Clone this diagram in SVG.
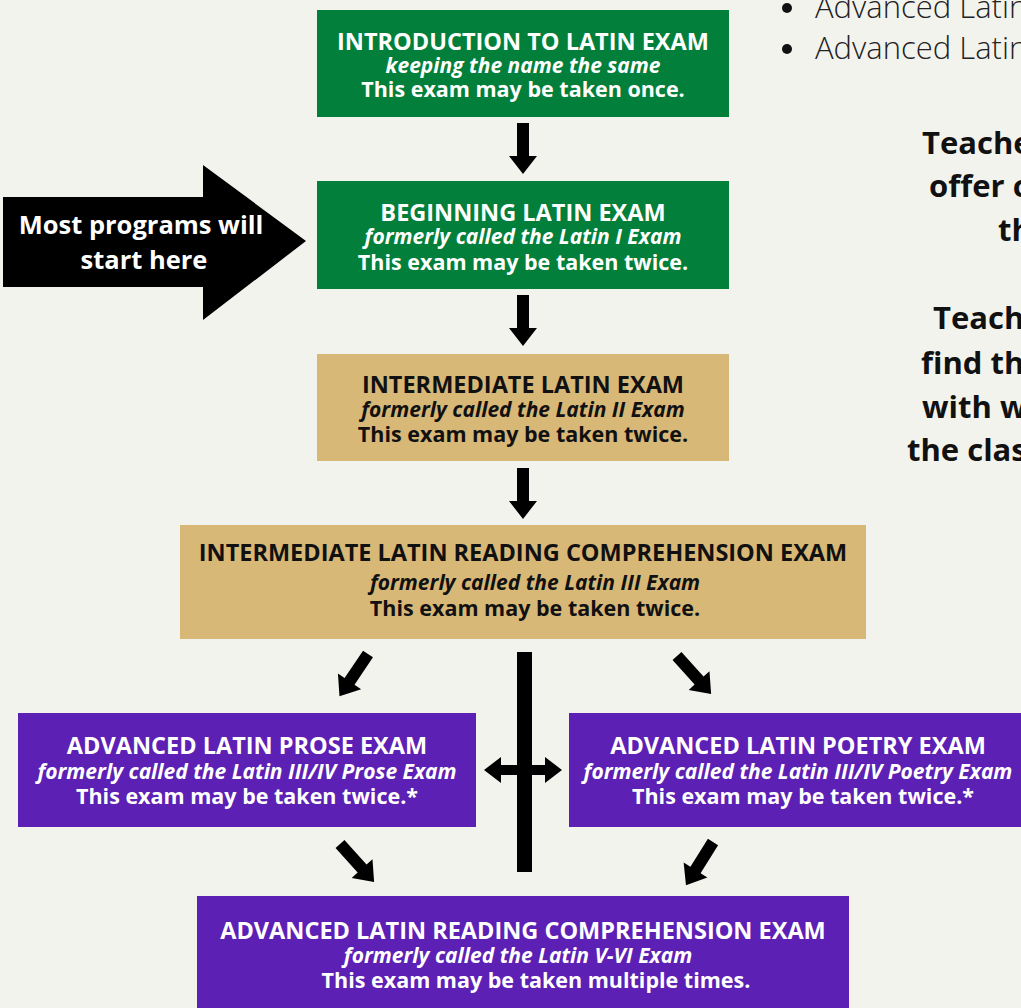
<svg xmlns="http://www.w3.org/2000/svg" width="1021" height="1008" viewBox="0 0 1021 1008">
<style>
text{font-family:"Open Sans","Noto Sans",sans-serif;}
.t{fill:#fff;font-weight:700;font-size:23.5px;text-anchor:middle;}
.i{fill:#fff;font-weight:700;font-style:italic;font-size:21px;text-anchor:middle;}
.s{fill:#fff;font-weight:700;font-size:21.5px;text-anchor:middle;}
.tan .t,.tan .i,.tan .s{fill:#111;}
.green{fill:#017f3b;}
.tanf{fill:#d8b877;}
.purple{fill:#5c20b5;}
.side{fill:#111;font-weight:700;font-size:31px;}
.bul{fill:#222;font-weight:300;font-size:31px;}
</style>
<defs>
<path id="dn" d="M-6,0 L6,0 L6,33 L14,33 L0,51 L-14,33 L-6,33 Z" fill="#000"/>
</defs>
<rect width="1021" height="1008" fill="#f3f3ee"/>

<g id="side-text">
<circle cx="787" cy="8" r="5" fill="#111"/>
<text class="bul" x="815" y="18">Advanced Latin</text>
<circle cx="787" cy="49" r="5" fill="#111"/>
<text class="bul" x="815" y="59">Advanced Latin</text>
<text class="side" x="922" y="154">Teache</text>
<text class="side" x="929" y="197">offer c</text>
<text class="side" x="998" y="241">th</text>
<text class="side" x="933" y="329">Teach</text>
<text class="side" x="921" y="374">find th</text>
<text class="side" x="922" y="418">with w</text>
<text class="side" x="907" y="461">the clas</text>
</g>

<g id="start-arrow">
<path d="M3,197 L203,197 L203,165 L306,241 L203,320 L203,287 L3,287 Z" fill="#000"/>
<text x="141" y="234" fill="#fff" font-weight="700" font-size="25.5" text-anchor="middle">Most programs will</text>
<text x="144" y="269" fill="#fff" font-weight="700" font-size="25.5" text-anchor="middle">start here</text>
</g>

<g id="node-intro">
<rect class="green" x="317" y="10" width="412" height="107"/>
<text class="t" x="523" y="50">INTRODUCTION TO LATIN EXAM</text>
<text class="i" x="523" y="73">keeping the name the same</text>
<text class="s" x="523" y="97">This exam may be taken once.</text>
</g>

<g id="node-beginning">
<rect class="green" x="317" y="181" width="412" height="108"/>
<text class="t" x="523" y="221">BEGINNING LATIN EXAM</text>
<text class="i" x="523" y="244">formerly called the Latin I Exam</text>
<text class="s" x="523" y="270">This exam may be taken twice.</text>
</g>

<g id="node-intermediate" class="tan">
<rect class="tanf" x="317" y="354" width="412" height="107"/>
<text class="t" x="523" y="393">INTERMEDIATE LATIN EXAM</text>
<text class="i" x="523" y="417">formerly called the Latin II Exam</text>
<text class="s" x="523" y="442">This exam may be taken twice.</text>
</g>

<g id="node-irc" class="tan">
<rect class="tanf" x="180" y="525" width="686" height="114"/>
<text class="t" x="523" y="561">INTERMEDIATE LATIN READING COMPREHENSION EXAM</text>
<text class="i" x="535" y="590">formerly called the Latin III Exam</text>
<text class="s" x="535" y="616">This exam may be taken twice.</text>
</g>

<g id="node-prose">
<rect class="purple" x="18" y="713" width="458" height="114"/>
<text class="t" x="247" y="754">ADVANCED LATIN PROSE EXAM</text>
<text class="i" x="247" y="779">formerly called the Latin III/IV Prose Exam</text>
<text class="s" x="247" y="804">This exam may be taken twice.*</text>
</g>

<g id="node-poetry">
<rect class="purple" x="569" y="713" width="460" height="114"/>
<text class="t" x="798" y="754">ADVANCED LATIN POETRY EXAM</text>
<text class="i" x="798" y="779">formerly called the Latin III/IV Poetry Exam</text>
<text class="s" x="803" y="804">This exam may be taken twice.*</text>
</g>

<g id="node-arc">
<rect class="purple" x="197" y="896" width="652" height="120"/>
<text class="t" x="523" y="939">ADVANCED LATIN READING COMPREHENSION EXAM</text>
<text class="i" x="518" y="963">formerly called the Latin V-VI Exam</text>
<text class="s" x="536" y="988">This exam may be taken multiple times.</text>
</g>

<g id="connectors">
<use href="#dn" transform="translate(523,123)"/>
<use href="#dn" transform="translate(523,295)"/>
<use href="#dn" transform="translate(523,468)"/>
<use href="#dn" transform="translate(368,654) rotate(34)"/>
<use href="#dn" transform="translate(677,656) rotate(-42)"/>
<use href="#dn" transform="translate(340,844) rotate(-42)"/>
<use href="#dn" transform="translate(713,842) rotate(32)"/>
<rect x="517" y="652" width="15" height="220" fill="#000"/>
<path d="M484,770 L501,757 L501,765 L545,765 L545,757 L562,770 L545,783 L545,775 L501,775 L501,783 Z" fill="#000"/>
</g>
</svg>
